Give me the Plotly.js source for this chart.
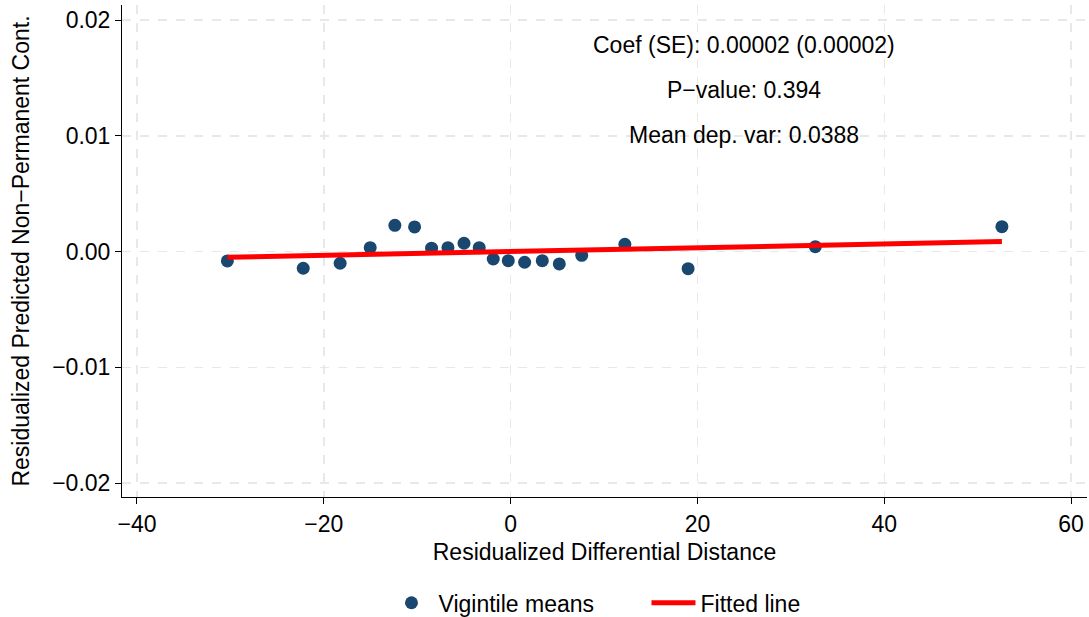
<!DOCTYPE html>
<html>
<head>
<meta charset="utf-8">
<script src="https://cdn.plot.ly/plotly-3.0.1.min.js"></script>
<style>html,body{margin:0;padding:0;background:#fff;}#chart{width:1089px;height:617px;}</style>
</head>
<body>
<div id="chart"></div>
<script>
// Vigintile means
const xMeans = [-30.32, -22.2, -18.25, -15.03, -12.39, -10.28, -8.46, -6.71, -4.99, -3.36,
                -1.86, -0.25, 1.50, 3.39, 5.21, 7.61, 12.23, 19.00, 32.62, 52.59];
const yMeans = [-0.00081, -0.00144, -0.00101, 0.00034, 0.00227, 0.00213, 0.00029, 0.00034, 0.00072, 0.00034,
                -0.00064, -0.00079, -0.00092, -0.00079, -0.00107, -0.00032, 0.00063, -0.00148, 0.00042, 0.00215];
// Fitted line endpoints
const xFit = [-30.32, 52.59];
const yFit = [-0.00049, 0.00086];
// Axis ticks
const xTicks = [-40, -20, 0, 20, 40, 60];
const yTicks = [-0.02, -0.01, 0, 0.01, 0.02];
const statLines = ["Coef (SE): 0.00002 (0.00002)", "P\u2212value: 0.394", "Mean dep. var: 0.0388"];

const font = "Liberation Sans, Arial, Helvetica, sans-serif";
const FS = 23;

const traces = [
  {x: xMeans, y: yMeans, type: 'scatter', mode: 'markers', name: 'Vigintile means',
   marker: {color: '#1a476f', size: 13}},
  {x: xFit, y: yFit, type: 'scatter', mode: 'lines', name: 'Fitted line',
   line: {color: '#ff0000', width: 5}}
];

const annY = [0.01785, 0.01396, 0.01007];
const annotations = statLines.map((t, i) => ({
  x: 25, y: annY[i], xref: 'x', yref: 'y', text: t, showarrow: false,
  font: {family: font, size: FS, color: '#000'}, xanchor: 'center', yanchor: 'middle'
}));

const layout = {
  width: 1089, height: 617,
  margin: {l: 122, r: 2, t: 5, b: 120},
  paper_bgcolor: '#fff', plot_bgcolor: '#fff',
  font: {family: font, size: FS, color: '#000'},
  showlegend: true,
  legend: {orientation: 'h', x: 0.272, xanchor: 'left', yref: 'container', y: 0.023, yanchor: 'middle',
           font: {family: font, size: FS, color: '#000'}, itemwidth: 44, entrywidth: 203},
  xaxis: {
    range: [-41.6, 61.7], tickvals: xTicks, ticktext: xTicks.map(v => v < 0 ? '\u2212' + Math.abs(v) : String(v)),
    showline: true, linecolor: '#000', linewidth: 1, ticks: 'outside', ticklen: 6, tickcolor: '#000',
    showgrid: true, gridcolor: '#e8e8e8', griddash: 'dash', gridwidth: 1.5, zeroline: false,
    tickfont: {family: font, size: FS},
    title: {text: 'Residualized Differential Distance', font: {family: font, size: FS}, standoff: 8}
  },
  yaxis: {
    range: [-0.0212, 0.0213], tickvals: yTicks,
    ticktext: yTicks.map(v => (v < 0 ? '\u2212' : '') + Math.abs(v).toFixed(2)),
    showline: true, linecolor: '#000', linewidth: 1, ticks: 'outside', ticklen: 6, tickcolor: '#000',
    showgrid: true, gridcolor: '#e8e8e8', griddash: 'dash', gridwidth: 1.5, zeroline: false,
    tickfont: {family: font, size: FS},
    title: {text: 'Residualized Predicted Non\u2212Permanent Cont.', font: {family: font, size: FS}, standoff: 16}
  },
  annotations: annotations
};

Plotly.newPlot('chart', traces, layout, {displayModeBar: false, staticPlot: true});
</script>
</body>
</html>
